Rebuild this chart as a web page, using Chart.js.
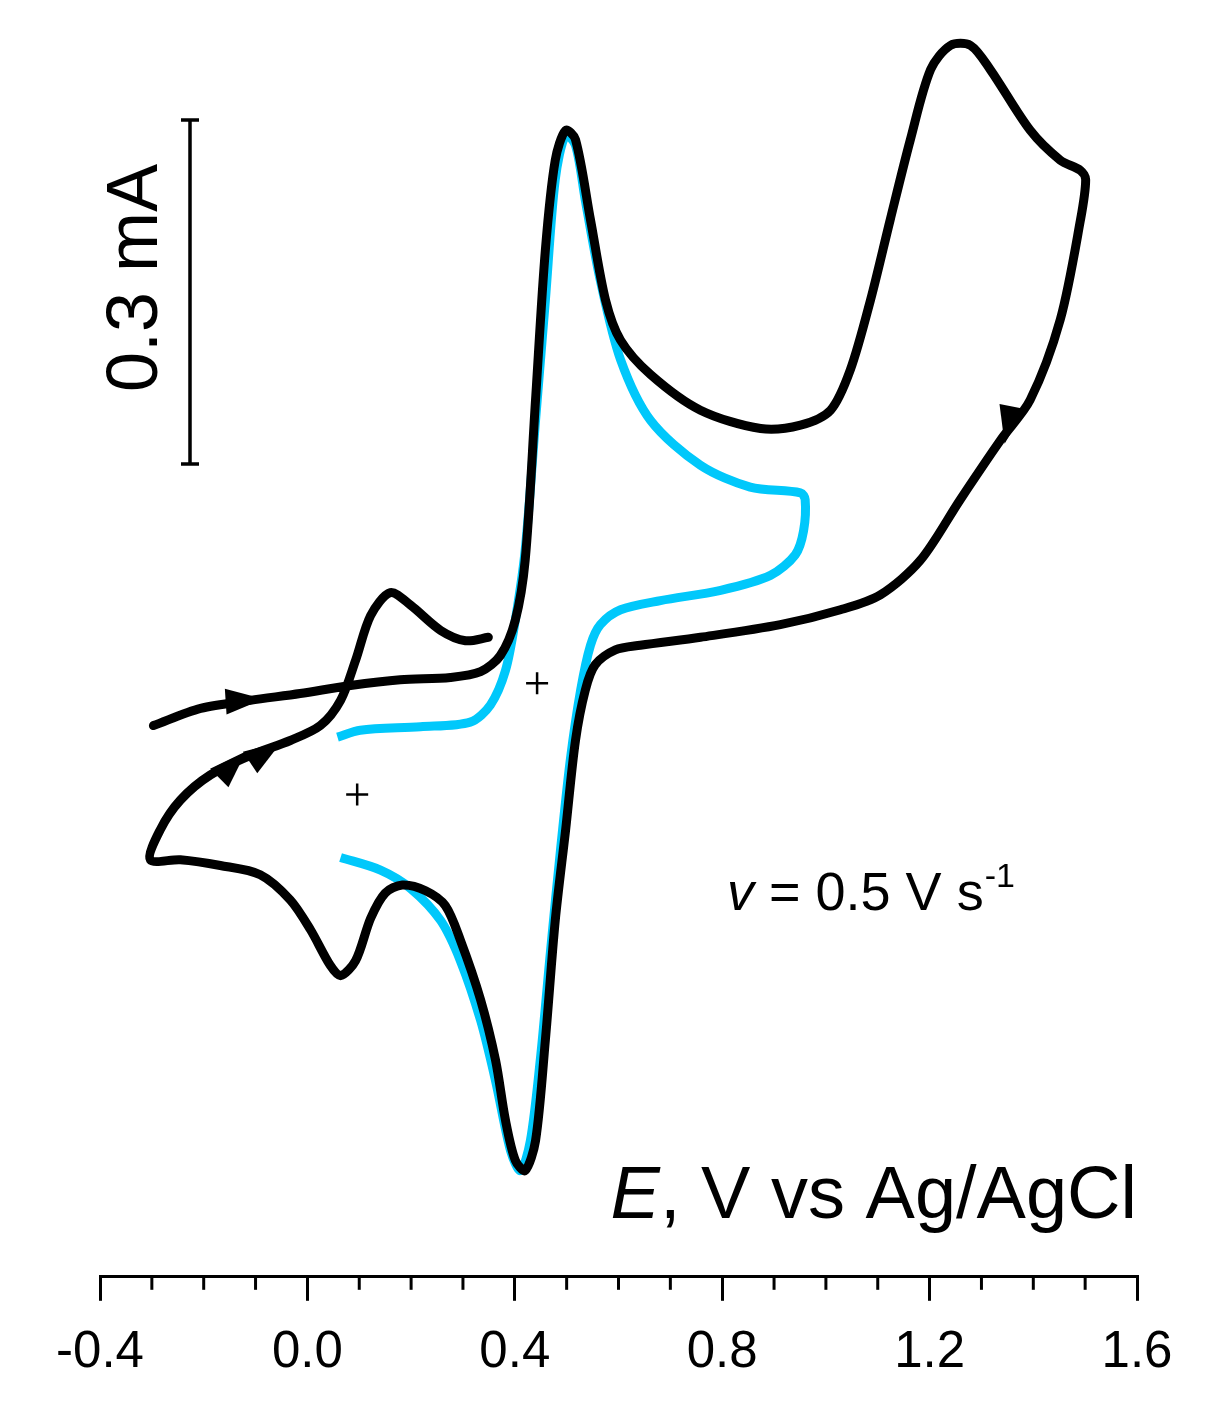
<!DOCTYPE html>
<html><head><meta charset="utf-8">
<script src="https://cdn.jsdelivr.net/npm/chart.js@4/dist/chart.umd.min.js"></script>
<style>html,body{margin:0;background:#fff}#w{width:1224px;height:1420px}</style>
</head><body><div id="w"><canvas id="c"></canvas></div>
<script>
// Potential (V vs Ag/AgCl) and current (mA)
const blackE = [-0.297,-0.206,-0.110,-0.014,0.083,0.179,0.276,0.334,0.372,0.401,0.420,0.440,0.459,0.478,0.498,0.517,0.546,0.575,0.604,0.662,0.758,0.874,0.951,1.009,1.047,1.086,1.124,1.163,1.202,1.240,1.279,1.317,1.394,1.452,1.491,1.501,1.491,1.452,1.394,1.337,1.259,1.182,1.105,1.028,0.912,0.758,0.642,0.594,0.555,0.536,0.517,0.498,0.478,0.459,0.440,0.420,0.401,0.382,0.363,0.334,0.295,0.266,0.228,0.183,0.150,0.122,0.093,0.064,0.044,0.006,-0.033,-0.091,-0.168,-0.245,-0.303,-0.284,-0.245,-0.187,-0.110,-0.033,0.025,0.064,0.093,0.122,0.160,0.199,0.257,0.305,0.349];
const blackI = [-0.037,-0.022,-0.015,-0.009,-0.002,0.003,0.005,0.010,0.024,0.055,0.107,0.247,0.378,0.456,0.482,0.474,0.404,0.334,0.299,0.269,0.238,0.222,0.225,0.238,0.273,0.334,0.404,0.474,0.535,0.556,0.556,0.535,0.482,0.456,0.447,0.439,0.404,0.317,0.247,0.212,0.160,0.107,0.077,0.064,0.051,0.040,0.033,0.029,0.016,-0.006,-0.050,-0.128,-0.207,-0.311,-0.399,-0.425,-0.416,-0.381,-0.329,-0.276,-0.224,-0.194,-0.181,-0.176,-0.183,-0.205,-0.242,-0.255,-0.246,-0.215,-0.189,-0.167,-0.159,-0.154,-0.154,-0.128,-0.102,-0.080,-0.063,-0.050,-0.037,-0.015,0.020,0.059,0.079,0.068,0.046,0.037,0.040];
const blueE = [0.058,0.102,0.218,0.314,0.353,0.382,0.401,0.420,0.440,0.459,0.478,0.498,0.517,0.536,0.565,0.604,0.662,0.758,0.854,0.951,0.960,0.957,0.941,0.893,0.797,0.681,0.604,0.565,0.546,0.527,0.507,0.488,0.469,0.449,0.430,0.411,0.392,0.363,0.334,0.295,0.257,0.199,0.141,0.064];
const blueI = [-0.047,-0.041,-0.038,-0.034,-0.019,0.011,0.055,0.116,0.229,0.334,0.439,0.478,0.469,0.421,0.351,0.282,0.229,0.190,0.171,0.166,0.160,0.133,0.112,0.094,0.081,0.072,0.064,0.051,0.033,-0.006,-0.067,-0.146,-0.233,-0.329,-0.399,-0.425,-0.408,-0.347,-0.294,-0.242,-0.207,-0.179,-0.163,-0.152];
const xTickLabels = ['-0.4','0.0','0.4','0.8','1.2','1.6'];
// arrows: [E, i, directionE, directionI]
const arrows = [[-0.121,-0.015,1,0.03],[-0.144,-0.071,1,0.45],[-0.080,-0.060,1,0.3],[1.352,0.225,-1,-2.2]];
const plusMarks = [[0.443,0],[0.096,-0.097]];

const BLUE='#00c8fb';
const extras = {
  id:'extras',
  afterDraw(ch){
    const c=ch.ctx,x=ch.scales.x,y=ch.scales.y;
    c.save();
    c.strokeStyle='#000';c.lineWidth=3;
    for(let k=0;k<=20;k++){const v=-0.4+k*0.1; if(k%4===0)continue;
      const px=x.getPixelForValue(v);c.beginPath();c.moveTo(px,x.top);c.lineTo(px,x.top+13);c.stroke();}
    c.fillStyle='#000';
    arrows.forEach(a=>{
      const px=x.getPixelForValue(a[0]),py=y.getPixelForValue(a[1]);
      const qx=x.getPixelForValue(a[0]+a[2]*0.01),qy=y.getPixelForValue(a[1]+a[3]*0.01);
      const ang=Math.atan2(qy-py,qx-px);
      c.save();c.translate(px,py);c.rotate(ang);
      c.beginPath();c.moveTo(19,0);c.lineTo(-19,-13);c.lineTo(-19,13);c.closePath();c.fill();c.restore();
    });
    c.lineWidth=2.5;
    plusMarks.forEach(p=>{const px=x.getPixelForValue(p[0]),py=y.getPixelForValue(p[1]);
      c.beginPath();c.moveTo(px-11,py);c.lineTo(px+11,py);c.moveTo(px,py-11);c.lineTo(px,py+11);c.stroke();});
    const bx=190,top=y.getPixelForValue(0.491),bot=y.getPixelForValue(0.191);
    c.lineWidth=3.5;c.beginPath();c.moveTo(bx,top);c.lineTo(bx,bot);
    c.moveTo(bx-9,top);c.lineTo(bx+9,top);c.moveTo(bx-9,bot);c.lineTo(bx+9,bot);c.stroke();
    c.save();c.translate(137,278);c.rotate(-Math.PI/2);
    c.font='72px "Liberation Sans", Arial';c.textAlign='center';c.textBaseline='middle';
    c.fillText('0.3 mA',0,0);c.restore();
    c.textBaseline='alphabetic';c.textAlign='left';
    const F='74px "Liberation Sans", Arial',FI='italic 74px "Liberation Sans", Arial';
    const t1='E',t2=', V vs Ag/AgCl';
    c.font=FI;const w1=c.measureText(t1).width;
    c.font=F;const w2=c.measureText(t2).width;
    let sx=1137-w1-w2;
    c.font=FI;c.fillText(t1,sx,1218);
    c.font=F;c.fillText(t2,sx+w1,1218);
    let tx=727;
    c.font='italic 54px "Liberation Sans", Arial';c.fillText('v',tx,910);tx+=c.measureText('v').width;
    c.font='54px "Liberation Sans", Arial';const s=' = 0.5 V s';c.fillText(s,tx,910);tx+=c.measureText(s).width;
    c.font='34px "Liberation Sans", Arial';c.fillText('-1',tx+1,887);
    c.restore();
  }
};

const toPts=(E,I)=>E.map((e,i)=>({x:e,y:I[i]}));
new Chart(document.getElementById('c'),{
  type:'scatter',
  data:{datasets:[
    {data:toPts(blackE,blackI),showLine:true,borderColor:'#000',borderWidth:9,pointRadius:0,tension:0.3,borderCapStyle:'round',borderJoinStyle:'round'},
    {data:toPts(blueE,blueI),showLine:true,borderColor:BLUE,borderWidth:9,pointRadius:0,tension:0.3,borderCapStyle:'butt',borderJoinStyle:'round'}
  ]},
  options:{
    responsive:true,maintainAspectRatio:false,animation:false,
    layout:{padding:{left:100,right:87,top:30,bottom:14}},
    plugins:{legend:{display:false},tooltip:{enabled:false}},
    scales:{
      y:{display:false,min:-0.5176,max:0.5695},
      x:{min:-0.4,max:1.6,
        border:{display:true,color:'#000',width:3},
        grid:{drawOnChartArea:false,tickLength:24,lineWidth:3,color:'#000'},
        afterBuildTicks(s){s.ticks=[0,1,2,3,4,5].map(k=>({value:-0.4+0.4*k}));},
        ticks:{autoSkip:false,maxRotation:0,padding:22,color:'#000',
          font:{size:51,family:'"Liberation Sans", Arial'},
          callback:(v,i)=>xTickLabels[i]}
      }
    }
  },
  plugins:[extras]
});
</script></body></html>
